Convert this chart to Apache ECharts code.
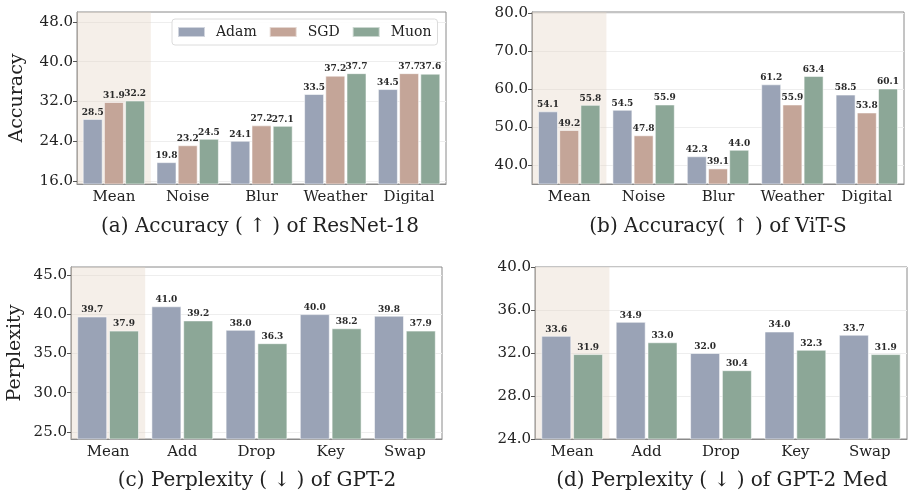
<!DOCTYPE html>
<html>
<head>
<meta charset="utf-8">
<script src="https://cdn.jsdelivr.net/npm/echarts@6/dist/echarts.min.js"></script>
<style>
  html, body { margin: 0; padding: 0; background: #fff; }
  #chart { width: 914px; height: 498px; }
</style>
</head>
<body>
<div id="chart"></div>
<script>
// data
const visionCats = ['Mean', 'Noise', 'Blur', 'Weather', 'Digital']
const textCats = ['Mean', 'Add', 'Drop', 'Key', 'Swap']

const resnetAdam = [28.5, 19.8, 24.1, 33.5, 34.5]
const resnetSGD = [31.9, 23.2, 27.2, 37.2, 37.7]
const resnetMuon = [32.2, 24.5, 27.1, 37.7, 37.6]

const vitAdam = [54.1, 54.5, 42.3, 61.2, 58.5]
const vitSGD = [49.2, 47.8, 39.1, 55.9, 53.8]
const vitMuon = [55.8, 55.9, 44.0, 63.4, 60.1]

const gpt2Adam = [39.7, 41.0, 38.0, 40.0, 39.8]
const gpt2Muon = [37.9, 39.2, 36.3, 38.2, 37.9]

const gpt2MedAdam = [33.6, 34.9, 32.0, 34.0, 33.7]
const gpt2MedMuon = [31.9, 33.0, 30.4, 32.3, 31.9]

const ticksA = [16, 24, 32, 40, 48]
const ticksB = [40, 50, 60, 70, 80]
const ticksC = [25, 30, 35, 40, 45]
const ticksD = [24, 28, 32, 36, 40]

const titles = [
  '(a) Accuracy ( \u2191 ) of ResNet-18',
  '(b) Accuracy( \u2191 ) of ViT-S',
  '(c) Perplexity ( \u2193 ) of GPT-2',
  '(d) Perplexity ( \u2193 ) of GPT-2 Med'
]

const FONT = 'DejaVu Serif'
const colors = { Adam: '#9AA3B6', SGD: '#C4A598', Muon: '#8CA797' }
const shade = 'rgba(228,214,196,0.38)'

const panels = [
  { cats: visionCats, ticks: ticksA, min: 15.4, max: 50, yName: 'Accuracy', nameGap: 50,
    grid: { left: 77, top: 12, width: 369, height: 172 },
    series: { Adam: resnetAdam, SGD: resnetSGD, Muon: resnetMuon }, barWidth: 20 },
  { cats: visionCats, ticks: ticksB, min: 35, max: 80.2, yName: '', nameGap: 50,
    grid: { left: 532, top: 12, width: 372, height: 172 },
    series: { Adam: vitAdam, SGD: vitSGD, Muon: vitMuon }, barWidth: 20 },
  { cats: textCats, ticks: ticksC, min: 24.1, max: 46, yName: 'Perplexity', nameGap: 46,
    grid: { left: 71, top: 267, width: 371, height: 172 },
    series: { Adam: gpt2Adam, Muon: gpt2Muon }, barWidth: 30 },
  { cats: textCats, ticks: ticksD, min: 24, max: 40, yName: '', nameGap: 46,
    grid: { left: 535, top: 267, width: 372, height: 172 },
    series: { Adam: gpt2MedAdam, Muon: gpt2MedMuon }, barWidth: 30 }
]

const grids = []
const xAxes = []
const yAxes = []
const series = []

panels.forEach((p, i) => {
  grids.push(Object.assign({ show: true, borderColor: '#8a8a8a', borderWidth: 1, backgroundColor: 'transparent' }, p.grid))
  // visible category axis
  xAxes.push({
    type: 'category', gridIndex: i, data: p.cats,
    axisLine: { lineStyle: { color: '#8a8a8a' } },
    axisTick: { show: false },
    axisLabel: { interval: 0, fontFamily: FONT, fontSize: 15, color: '#222', margin: 6 }
  })
  // hidden axis used only for the shaded "Mean" column
  xAxes.push({ type: 'category', gridIndex: i, data: p.cats, show: false })
  yAxes.push({
    type: 'value', gridIndex: i, min: p.min, max: p.max,
    name: p.yName, nameLocation: 'middle', nameGap: p.nameGap, nameRotate: 90,
    nameTextStyle: { fontFamily: FONT, fontSize: 19, color: '#222' },
    axisLine: { show: true, lineStyle: { color: '#8a8a8a' } },
    axisTick: { show: true, length: 4, customValues: p.ticks, lineStyle: { color: '#555' } },
    axisLabel: { customValues: p.ticks, fontFamily: FONT, fontSize: 15, color: '#222', margin: 4,
      formatter: v => v.toFixed(1) },
    splitLine: { show: true, lineStyle: { color: '#eeeeee', width: 1 } }
  })

  const shadeData = p.cats.map((c, k) => (k === 0 ? p.max : '-'))
  series.push({
    type: 'bar', name: 'shade' + i, xAxisIndex: 2 * i + 1, yAxisIndex: i,
    data: shadeData, barWidth: '100%', silent: true, z: 0,
    itemStyle: { color: shade }
  })

  Object.keys(p.series).forEach(name => {
    series.push({
      type: 'bar', name: name, xAxisIndex: 2 * i, yAxisIndex: i,
      data: p.series[name], barWidth: p.barWidth, barGap: '6%', z: 2,
      itemStyle: { color: colors[name], borderColor: 'rgba(255,255,255,0.55)', borderWidth: 1 },
      label: {
        show: true, position: 'top', distance: 2,
        fontFamily: FONT, fontWeight: 'bold', fontSize: 9, color: '#2a2a2a',
        formatter: d => d.value.toFixed(1)
      }
    })
  })
})

const titleCenters = [[260, 217], [718, 217], [257, 471], [722, 471]]

const option = {
  backgroundColor: '#fff',
  animation: false,
  title: titles.map((t, i) => ({
    text: t, left: titleCenters[i][0], top: titleCenters[i][1], textAlign: 'center', padding: 0,
    textStyle: { fontFamily: FONT, fontSize: 20, fontWeight: 'normal', color: '#222' }
  })),
  legend: {
    data: ['Adam', 'SGD', 'Muon'],
    left: 172, top: 19, padding: [6, 6, 6, 5],
    itemWidth: 27, itemHeight: 10, itemGap: 12,
    borderColor: '#dcdcdc', borderWidth: 1, borderRadius: 3,
    backgroundColor: 'rgba(255,255,255,0.85)',
    icon: 'rect',
    textStyle: { fontFamily: FONT, fontSize: 14, color: '#222', padding: [0, 0, 0, 6] }
  },
  grid: grids,
  xAxis: xAxes,
  yAxis: yAxes,
  series: series
}

const chart = echarts.init(document.getElementById('chart'))
chart.setOption(option)
</script>
</body>
</html>
